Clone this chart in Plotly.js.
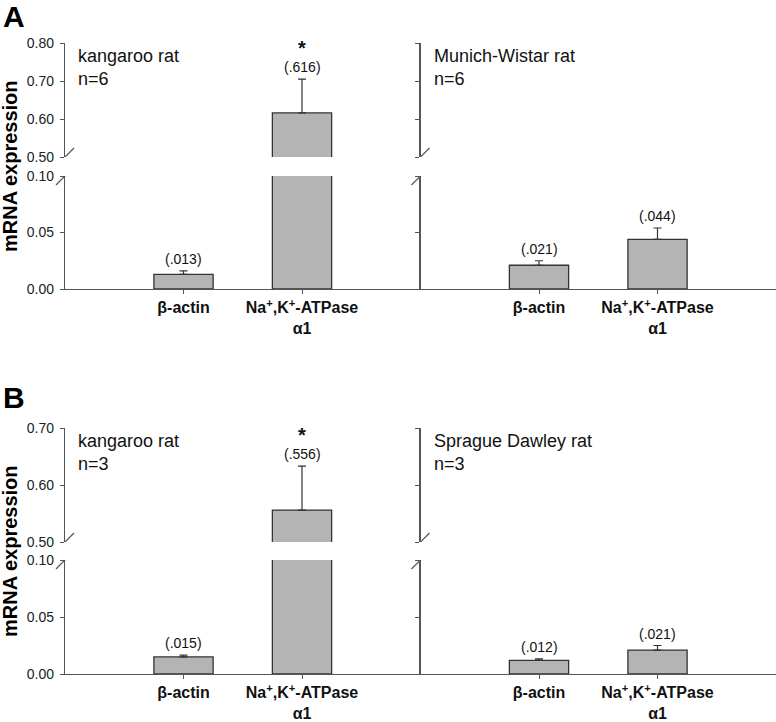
<!DOCTYPE html>
<html>
<head>
<meta charset="utf-8">
<script src="https://cdn.plot.ly/plotly-3.0.1.min.js"></script>
<style>
  body { margin: 0; background: #fff; }
  #plot { width: 776px; height: 722px; }
</style>
</head>
<body>
<div id="plot"></div>
<script>
// x categories (same for every group)
var genes = ['β-actin', 'Na<sup>+</sup>,K<sup>+</sup>-ATPase<br>α1'];

// panel A
var ratsA = ['kangaroo rat', 'Munich-Wistar rat'];
var nA = [6, 6];
var krMeanA = [0.013, 0.616];
var krErrA = [0.003, 0.089];
var mwMeanA = [0.021, 0.044];
var mwErrA = [0.004, 0.010];

// panel B
var ratsB = ['kangaroo rat', 'Sprague Dawley rat'];
var nB = [3, 3];
var krMeanB = [0.015, 0.556];
var krErrB = [0.0015, 0.077];
var sdMeanB = [0.012, 0.021];
var sdErrB = [0.0012, 0.004];

// significance stars
var krStar = [false, true];
var noStar = [false, false];

// broken y axis ranges
var lowRange = [0, 0.10];
var lowTicks = [0, 0.05, 0.10];
var highRangeA = [0.50, 0.80];
var highTicksA = [0.50, 0.60, 0.70, 0.80];
var highRangeB = [0.50, 0.70];
var highTicksB = [0.50, 0.60, 0.70];

var FONT = 'Liberation Sans, Arial, sans-serif';
var AXCOL = '#555';
var H = 722;

function py(px) { return 1 - px / H; }
function ref(pre, n) { return n == 1 ? pre : pre + n; }
function key(pre, n) { return pre + 'axis' + (n == 1 ? '' : n); }
function fmt(v) { return '(' + v.toFixed(3).replace(/^0/, '') + ')'; }

var traces = [];
var annos = [];
var shapes = [];
var layout = {
  width: 776,
  height: 722,
  margin: {l: 65, r: 0, t: 0, b: 0},
  showlegend: false,
  barmode: 'overlay',
  plot_bgcolor: '#fff',
  paper_bgcolor: '#fff',
  font: {family: FONT, color: '#111'}
};

function yAxis(range, ticks, domain, anchor, showLabels) {
  return {
    range: range, domain: domain, anchor: anchor,
    tickvals: ticks, tickformat: '.2f',
    showticklabels: showLabels,
    tickfont: {family: FONT, size: 14, color: '#222'},
    ticklabelstandoff: 3,
    ticks: 'outside', ticklen: 4, tickwidth: 1, tickcolor: AXCOL,
    showline: true, linecolor: AXCOL, linewidth: 1.2,
    showgrid: false, zeroline: false, fixedrange: true
  };
}

function addPanel(p, rats, ns, groups, highRange, highTicks, lowDom, highDom) {
  for (var g = 0; g < 2; g++) {
    var xn = 2 * p + g + 1;
    var ylo = 4 * p + 2 * g + 1;
    var yhi = ylo + 1;
    var means = groups[g].mean, errs = groups[g].err, stars = groups[g].star;

    layout[key('x', xn)] = {
      domain: g == 0 ? [0, 0.5] : [0.5, 1],
      anchor: ref('y', ylo),
      type: 'category', range: [-1, 2],
      tickfont: {family: FONT, size: 16, color: '#111', weight: 'bold'},
      ticks: 'outside', ticklen: 4, tickwidth: 1, tickcolor: AXCOL,
      showline: true, linecolor: AXCOL, linewidth: 1.2,
      showgrid: false, zeroline: false, fixedrange: true
    };
    layout[key('y', ylo)] = yAxis(lowRange, lowTicks, lowDom, ref('x', xn), g == 0);
    layout[key('y', yhi)] = yAxis(highRange, highTicks, highDom, ref('x', xn), g == 0);

    [ylo, yhi].forEach(function (yn) {
      traces.push({
        type: 'bar', x: genes, y: means, width: 0.5,
        xaxis: ref('x', xn), yaxis: ref('y', yn),
        marker: {color: '#b4b4b4', line: {color: '#333', width: 1.3}},
        error_y: {type: 'data', symmetric: false, array: errs,
                  arrayminus: means.map(function () { return 0; }),
                  color: '#333', thickness: 1.2, width: 4},
        hoverinfo: 'skip'
      });
    });

    // value labels and stars
    for (var i = 0; i < means.length; i++) {
      var top = means[i] + errs[i];
      var yn = means[i] > lowRange[1] ? yhi : ylo;
      annos.push({
        xref: ref('x', xn), yref: ref('y', yn), x: genes[i], y: top,
        text: fmt(means[i]), showarrow: false, yanchor: 'bottom', yshift: 2,
        font: {family: FONT, size: 14, color: '#111'}
      });
      if (stars[i]) {
        annos.push({
          xref: ref('x', xn), yref: ref('y', yn), x: genes[i], y: top,
          text: '<b>*</b>', showarrow: false, yanchor: 'bottom', yshift: 18,
          font: {family: FONT, size: 20, color: '#111'}
        });
      }
    }

    // rat name and n
    annos.push({
      xref: ref('x', xn) + ' domain', yref: ref('y', yhi) + ' domain',
      x: 0, y: 1, xanchor: 'left', yanchor: 'top', xshift: 11, yshift: -1,
      align: 'left', showarrow: false,
      text: rats[g] + '<br>n=' + ns[g],
      font: {family: FONT, size: 18, color: '#111'}
    });

    // axis break marks
    [[yhi, highRange[0]], [ylo, lowRange[1]]].forEach(function (b) {
      shapes.push({
        type: 'line', xref: ref('x', xn) + ' domain',
        xsizemode: 'pixel', xanchor: 0,
        yref: ref('y', b[0]), ysizemode: 'pixel', yanchor: b[1],
        x0: -9, x1: 9, y0: -9, y1: 9,
        line: {color: AXCOL, width: 1.2}
      });
    });
  }
}

addPanel(0, ratsA, nA,
  [{mean: krMeanA, err: krErrA, star: krStar}, {mean: mwMeanA, err: mwErrA, star: noStar}],
  highRangeA, highTicksA, [py(289), py(176)], [py(157), py(43)]);
addPanel(1, ratsB, nB,
  [{mean: krMeanB, err: krErrB, star: krStar}, {mean: sdMeanB, err: sdErrB, star: noStar}],
  highRangeB, highTicksB, [py(674), py(560)], [py(542), py(428)]);

// panel letters and y titles
['A', 'B'].forEach(function (t, k) {
  annos.push({
    xref: 'paper', yref: 'paper', x: -64 / 711, y: k == 0 ? py(17) : py(398),
    xanchor: 'left', yanchor: 'middle', showarrow: false,
    text: '<b>' + t + '</b>', font: {family: FONT, size: 30, color: '#000'}
  });
  annos.push({
    xref: 'paper', yref: 'paper', x: -55 / 711, y: k == 0 ? py(166) : py(551),
    xanchor: 'center', yanchor: 'middle', showarrow: false, textangle: -90,
    text: '<b>mRNA expression</b>', font: {family: FONT, size: 20, color: '#000'}
  });
});

layout.annotations = annos;
layout.shapes = shapes;

Plotly.newPlot('plot', traces, layout, {staticPlot: true, displayModeBar: false});
</script>
</body>
</html>
